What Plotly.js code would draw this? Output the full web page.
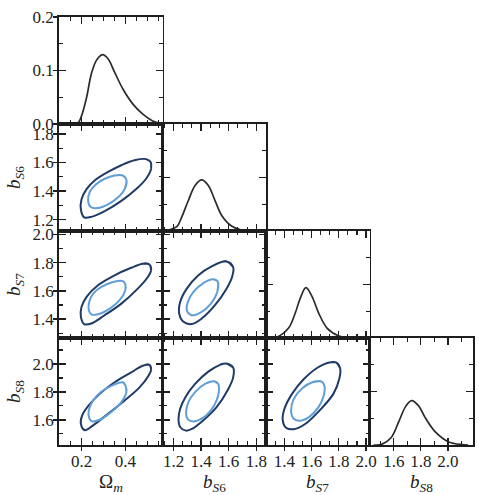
<!DOCTYPE html>
<html>
<head>
<meta charset="utf-8">
<script src="https://cdn.plot.ly/plotly-3.0.1.min.js"></script>
<style>
  html, body { margin: 0; padding: 0; background: #fff; }
  #plot { width: 479px; height: 495px; }
</style>
</head>
<body>
<div id="plot"></div>
<script>
// ---- parameters ----
const paramNames = ['Ω<sub><i>m</i></sub>', '<i>b</i><sub><i>S</i>6</sub>', '<i>b</i><sub><i>S</i>7</sub>', '<i>b</i><sub><i>S</i>8</sub>'];

// ---- 1-D marginal posteriors (diagonal) ----
const omDensX = [0.15, 0.17, 0.185, 0.2, 0.223, 0.245, 0.268, 0.295, 0.321, 0.351, 0.389, 0.435, 0.48, 0.525, 0.564];
const omDensY = [0, 0.0005, 0.0025, 0.0151, 0.0496, 0.0938, 0.1189, 0.1296, 0.1221, 0.0968, 0.0655, 0.0372, 0.0183, 0.0057, 0.0006];
const s6DensX = [1.13, 1.164, 1.224, 1.26, 1.308, 1.356, 1.404, 1.452, 1.5, 1.548, 1.62, 1.692, 1.77];
const s6DensY = [0, 0.0019, 0.008, 0.0265, 0.0574, 0.0852, 0.0957, 0.0852, 0.0574, 0.0296, 0.0093, 0.0019, 0];
const s7DensX = [1.3, 1.343, 1.43, 1.48, 1.517, 1.559, 1.604, 1.653, 1.715, 1.801, 1.876];
const s7DensY = [0, 0.0013, 0.0181, 0.0462, 0.0742, 0.094, 0.0772, 0.0462, 0.0181, 0.0037, 0];
const s8DensX = [1.45, 1.504, 1.578, 1.64, 1.688, 1.732, 1.782, 1.835, 1.909, 2.007, 2.105, 2.15];
const s8DensY = [0, 0.0006, 0.013, 0.0457, 0.0722, 0.0828, 0.0735, 0.05, 0.0241, 0.0056, 0.0006, 0];

// ---- 2-D credible contours (68% inner, 95% outer) ----
const omS6OuterX = [0.515, 0.495, 0.442, 0.382, 0.321, 0.260, 0.223, 0.200, 0.197, 0.212, 0.245, 0.306, 0.382, 0.450, 0.495, 0.518];
const omS6OuterY = [1.605, 1.624, 1.616, 1.581, 1.534, 1.474, 1.414, 1.343, 1.271, 1.216, 1.219, 1.259, 1.331, 1.414, 1.486, 1.557];
const omS6InnerX = [0.405, 0.389, 0.351, 0.306, 0.268, 0.238, 0.230, 0.242, 0.273, 0.321, 0.366, 0.397];
const omS6InnerY = [1.479, 1.509, 1.509, 1.486, 1.450, 1.395, 1.331, 1.288, 1.281, 1.307, 1.355, 1.414];

const omS7OuterX = [0.510, 0.518, 0.503, 0.457, 0.382, 0.306, 0.245, 0.212, 0.197, 0.200, 0.223, 0.275, 0.351, 0.427, 0.480];
const omS7OuterY = [1.788, 1.746, 1.699, 1.616, 1.510, 1.428, 1.369, 1.365, 1.416, 1.487, 1.558, 1.640, 1.711, 1.764, 1.793];
const omS7InnerX = [0.400, 0.389, 0.344, 0.291, 0.253, 0.235, 0.233, 0.245, 0.275, 0.329, 0.374, 0.400];
const omS7InnerY = [1.647, 1.670, 1.663, 1.628, 1.581, 1.522, 1.464, 1.433, 1.435, 1.475, 1.534, 1.605];

const s6S7OuterX = [1.584, 1.632, 1.624, 1.584, 1.500, 1.404, 1.332, 1.272, 1.241, 1.248, 1.296, 1.380, 1.476];
const s6S7OuterY = [1.809, 1.769, 1.699, 1.616, 1.499, 1.404, 1.365, 1.381, 1.440, 1.522, 1.616, 1.711, 1.774];
const s6S7InnerX = [1.519, 1.488, 1.416, 1.344, 1.304, 1.296, 1.332, 1.404, 1.471, 1.517];
const s6S7InnerY = [1.668, 1.682, 1.656, 1.593, 1.522, 1.464, 1.428, 1.452, 1.510, 1.593];

const omS8OuterX = [0.510, 0.518, 0.506, 0.465, 0.397, 0.321, 0.253, 0.215, 0.197, 0.203, 0.230, 0.283, 0.351, 0.427, 0.480];
const omS8OuterY = [1.994, 1.963, 1.916, 1.833, 1.739, 1.643, 1.561, 1.526, 1.572, 1.632, 1.698, 1.786, 1.869, 1.940, 1.987];
const omS8InnerX = [0.401, 0.389, 0.344, 0.291, 0.253, 0.233, 0.235, 0.248, 0.283, 0.336, 0.382, 0.405];
const omS8InnerY = [1.845, 1.869, 1.849, 1.803, 1.739, 1.668, 1.613, 1.589, 1.601, 1.656, 1.727, 1.798];

const s6S8OuterX = [1.577, 1.632, 1.632, 1.591, 1.512, 1.416, 1.337, 1.289, 1.248, 1.236, 1.248, 1.289, 1.356, 1.452, 1.536];
const s6S8OuterY = [2.004, 1.975, 1.904, 1.810, 1.691, 1.597, 1.537, 1.523, 1.549, 1.604, 1.679, 1.767, 1.857, 1.945, 1.994];
const s6S8InnerX = [1.524, 1.495, 1.428, 1.356, 1.308, 1.291, 1.304, 1.344, 1.404, 1.471, 1.512, 1.529];
const s6S8InnerY = [1.857, 1.876, 1.857, 1.798, 1.727, 1.656, 1.604, 1.589, 1.608, 1.668, 1.739, 1.810];

const s7S8OuterX = [1.779, 1.810, 1.803, 1.760, 1.660, 1.556, 1.470, 1.413, 1.388, 1.403, 1.457, 1.544, 1.643, 1.730];
const s7S8OuterY = [2.011, 1.968, 1.892, 1.786, 1.668, 1.572, 1.533, 1.544, 1.604, 1.684, 1.786, 1.892, 1.973, 2.011];
const s7S8InnerX = [1.675, 1.695, 1.688, 1.651, 1.581, 1.512, 1.465, 1.450, 1.470, 1.532, 1.606];
const s7S8InnerY = [1.874, 1.840, 1.769, 1.691, 1.620, 1.594, 1.613, 1.668, 1.750, 1.826, 1.869];

// ---- assembling the triangle ----
const diagonal = [[omDensX, omDensY], [s6DensX, s6DensY], [s7DensX, s7DensY], [s8DensX, s8DensY]];
const pairs = {
  '1,0': [[omS6OuterX, omS6OuterY], [omS6InnerX, omS6InnerY]],
  '2,0': [[omS7OuterX, omS7OuterY], [omS7InnerX, omS7InnerY]],
  '2,1': [[s6S7OuterX, s6S7OuterY], [s6S7InnerX, s6S7InnerY]],
  '3,0': [[omS8OuterX, omS8OuterY], [omS8InnerX, omS8InnerY]],
  '3,1': [[s6S8OuterX, s6S8OuterY], [s6S8InnerX, s6S8InnerY]],
  '3,2': [[s7S8OuterX, s7S8OuterY], [s7S8InnerX, s7S8InnerY]]
};

const ranges = [[0.097, 0.57], [1.12, 1.87], [1.266, 2.025], [1.42, 2.186]];
const xMinor = [0.05, 0.2 / 3, 0.2 / 3, 0.1];
const densRange = [0, 0.2];

const N = 4;
const frame = '#1e1e1e';
const outerColor = '#203a68';
const innerColor = '#5f9fd6';
const serif = 'Liberation Serif, serif';
const tickFont = { family: serif, size: 17, color: '#222' };
const titleFont = { family: serif, size: 19, color: '#222' };

// wrap a closed loop so the spline has neighbours on both sides at the seam
function closeLoop(arr) {
  const n = arr.length;
  return [arr[n - 1]].concat(arr, [arr[0], arr[1]]);
}

const layout = {
  width: 479, height: 495,
  margin: { l: 59, r: 6, t: 17, b: 50 },
  showlegend: false,
  paper_bgcolor: '#fff', plot_bgcolor: '#fff',
  font: tickFont,
  annotations: []
};
const traces = [];

function baseAxis(range, dtick, minorStep) {
  return {
    range: range, autorange: false, fixedrange: true,
    showgrid: false, zeroline: false,
    showline: true, linecolor: frame, linewidth: 1.8, mirror: 'ticks',
    ticks: 'inside', ticklen: 7, tickwidth: 1.3, tickcolor: frame,
    tick0: 0, dtick: dtick, tickformat: '.1f',
    minor: { ticks: 'inside', ticklen: 4, tickwidth: 1.1, tickcolor: frame, tick0: 0, dtick: minorStep },
    tickfont: tickFont
  };
}

let k = 0;
const leftIds = [], bottomIds = [];
for (let row = 0; row < N; row++) {
  for (let col = 0; col <= row; col++) {
    k++;
    const sfx = k === 1 ? '' : String(k);
    const xa = baseAxis(ranges[col], 0.2, xMinor[col]);
    xa.domain = [col / N, (col + 1) / N];
    xa.anchor = 'y' + sfx;
    xa.showticklabels = row === N - 1;
    if (row === N - 1) {
      bottomIds.push(sfx);
      // parameter name centred under its column
      layout.annotations.push({
        text: paramNames[col], font: titleFont, showarrow: false,
        xref: 'x' + sfx + ' domain', x: 0.5, xanchor: 'center',
        yref: 'paper', y: 0, yanchor: 'top', yshift: -24
      });
    }
    const isDiag = row === col;
    const ya = isDiag ? baseAxis(densRange, 0.1, 0.05) : baseAxis(ranges[row], 0.2, 0.1);
    ya.domain = [1 - (row + 1) / N, 1 - row / N];
    ya.anchor = 'x' + sfx;
    ya.showticklabels = col === 0;
    if (col === 0) {
      leftIds.push(sfx);
      if (!isDiag) {
        ya.title = { text: paramNames[row], font: titleFont, standoff: 7 };
      }
    }
    layout['xaxis' + sfx] = xa;
    layout['yaxis' + sfx] = ya;

    if (isDiag) {
      traces.push({
        type: 'scatter', mode: 'lines', x: diagonal[row][0], y: diagonal[row][1],
        xaxis: 'x' + sfx, yaxis: 'y' + sfx, hoverinfo: 'skip',
        line: { color: '#2b2b2b', width: 1.7, shape: 'spline', smoothing: 1 }
      });
    } else {
      const [outer, inner] = pairs[row + ',' + col];
      [[outer, outerColor], [inner, innerColor]].forEach(([c, color]) => {
        traces.push({
          type: 'scatter', mode: 'lines',
          x: closeLoop(c[0]), y: closeLoop(c[1]),
          xaxis: 'x' + sfx, yaxis: 'y' + sfx, hoverinfo: 'skip',
          line: { color: color, width: 2, shape: 'spline', smoothing: 1 }
        });
      });
    }
  }
}

// outward half of the major ticks on the outer left and bottom edges
function outwardAxis(base) {
  return {
    range: base.range, autorange: false, fixedrange: true,
    showgrid: false, zeroline: false, showline: false, showticklabels: false,
    ticks: 'outside', ticklen: 5, tickwidth: 1.3, tickcolor: frame,
    tick0: 0, dtick: base.dtick
  };
}
leftIds.forEach((sfx) => {
  k++;
  const ov = outwardAxis(layout['yaxis' + sfx]);
  ov.overlaying = 'y' + sfx; ov.anchor = 'x' + sfx; ov.side = 'left';
  layout['yaxis' + k] = ov;
  traces.push({ type: 'scatter', mode: 'lines', x: [], y: [], xaxis: 'x' + sfx, yaxis: 'y' + k, hoverinfo: 'skip' });
});
bottomIds.forEach((sfx) => {
  k++;
  const ov = outwardAxis(layout['xaxis' + sfx]);
  ov.overlaying = 'x' + sfx; ov.anchor = 'y' + sfx; ov.side = 'bottom';
  layout['xaxis' + k] = ov;
  traces.push({ type: 'scatter', mode: 'lines', x: [], y: [], xaxis: 'x' + k, yaxis: 'y' + sfx, hoverinfo: 'skip' });
});

Plotly.newPlot('plot', traces, layout, { staticPlot: true, displayModeBar: false });
</script>
</body>
</html>
